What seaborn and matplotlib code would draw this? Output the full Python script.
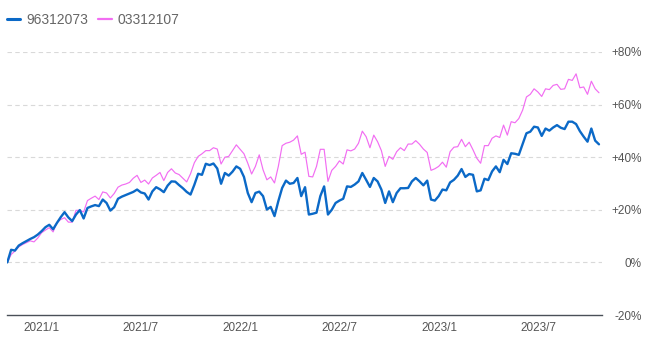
import matplotlib
matplotlib.use("Agg")
import matplotlib.pyplot as plt
import matplotlib.dates as mdates
from matplotlib.lines import Line2D
import seaborn as sns
import pandas as pd

# ---- data (weekly cumulative return, %) ----
series_names = ["96312073", "03312107"]
start_date = "2020-10-30"

fund_a = [
    0.0, 4.8, 4.5, 6.4, 7.3, 8.1, 8.9, 9.6, 10.6, 11.9,
    13.4, 14.3, 12.6, 15.0, 17.2, 19.1, 17.1, 15.7, 18.2, 19.9,
    16.7, 20.7, 21.3, 21.8, 21.4, 23.9, 22.6, 19.7, 21.0, 24.2,
    25.0, 25.6, 26.2, 26.8, 27.7, 26.6, 26.2, 23.9, 27.0, 28.6,
    27.8, 26.7, 29.2, 30.8, 30.7, 29.4, 28.2, 26.8, 25.8, 29.5,
    33.7, 33.3, 37.5, 37.0, 37.6, 35.7, 29.9, 34.0, 33.0, 34.5,
    36.5, 35.6, 32.5, 26.4, 22.9, 26.4, 26.9, 25.2, 20.1, 21.1,
    17.6, 23.3, 28.3, 31.1, 29.9, 30.2, 32.1, 25.2, 28.6, 18.2,
    18.5, 18.9, 25.2, 28.9, 18.2, 20.0, 22.6, 23.5, 24.2, 28.9,
    28.7, 29.6, 30.8, 34.0, 31.4, 28.7, 32.1, 30.8, 27.7, 22.6,
    27.0, 22.9, 26.4, 28.2, 28.2, 28.3, 30.8, 32.1, 30.8, 29.3,
    31.1, 23.9, 23.5, 25.2, 27.7, 27.4, 30.4, 31.4, 33.0, 35.5,
    32.5, 33.6, 33.3, 27.0, 27.4, 31.8, 31.3, 34.6, 36.5, 34.3,
    39.0, 37.4, 41.5, 41.3, 40.9, 45.0, 49.1, 49.7, 51.6, 51.3,
    48.1, 50.9, 50.1, 51.3, 52.2, 51.2, 50.7, 53.5, 53.5, 52.6,
    49.9, 47.8, 45.9, 50.9, 46.3, 44.9,
]

fund_b = [
    0.0, 3.0, 4.3, 5.9, 6.8, 7.5, 8.2, 7.8, 9.3, 11.3,
    12.3, 13.2, 11.6, 15.2, 16.3, 17.0, 15.3, 15.3, 19.8, 19.8,
    19.2, 23.5, 24.4, 25.2, 23.9, 26.8, 26.4, 24.5, 26.2, 28.6,
    29.4, 29.8, 30.4, 32.0, 33.1, 30.4, 31.3, 29.8, 32.1, 33.1,
    34.2, 31.1, 34.2, 35.6, 34.0, 33.4, 32.0, 30.6, 33.7, 37.9,
    40.3, 41.3, 42.5, 42.5, 43.6, 43.1, 37.4, 40.0, 40.3, 42.5,
    44.7, 43.0, 41.3, 37.7, 33.6, 36.5, 40.9, 35.2, 31.4, 32.5,
    30.2, 36.5, 44.4, 45.3, 45.7, 46.5, 48.1, 41.1, 41.9, 32.7,
    32.5, 36.5, 43.0, 43.0, 30.8, 35.0, 36.5, 38.6, 37.4, 42.8,
    42.4, 43.1, 45.3, 49.9, 47.8, 43.6, 48.4, 45.9, 42.5, 36.5,
    40.3, 39.2, 42.1, 43.6, 42.5, 45.0, 45.0, 46.3, 44.9, 43.1,
    41.8, 35.0, 35.6, 36.5, 38.1, 36.2, 42.1, 43.8, 44.0, 46.8,
    44.0, 45.7, 42.8, 39.6, 37.7, 44.4, 44.4, 47.2, 48.1, 47.5,
    52.2, 48.4, 53.5, 53.1, 54.7, 57.9, 62.9, 63.9, 66.0, 64.8,
    63.1, 66.0, 65.7, 67.3, 67.7, 65.8, 66.0, 69.6, 69.2, 71.7,
    66.4, 66.7, 63.9, 68.9, 66.0, 64.5,
]

y_ticks = [-20, 0, 20, 40, 60, 80]
y_tick_labels = ["-20%", "0%", "+20%", "+40%", "+60%", "+80%"]
x_ticks = ["2021-01-01", "2021-07-01", "2022-01-01", "2022-07-01", "2023-01-01", "2023-07-01"]
x_tick_labels = ["2021/1", "2021/7", "2022/1", "2022/7", "2023/1", "2023/7"]

colors = ["#0b69c7", "#f26df2"]
widths = [1.7, 0.85]

dates = pd.date_range(start_date, periods=len(fund_a), freq="7D")
df = pd.DataFrame({"date": list(dates) * 2,
                   "value": fund_a + fund_b,
                   "series": [series_names[0]] * len(fund_a) + [series_names[1]] * len(fund_b)})

sns.set_theme(style="white")
plt.rcParams["font.family"] = ["Liberation Sans", "DejaVu Sans"]

fig = plt.figure(figsize=(6.61, 3.42), dpi=100)
ax = fig.add_axes([7.3 / 661, 1 - 315 / 342, (601.7 - 7.3) / 661, (315 - 52) / 342])

for name, c, w in zip(series_names, colors, widths):
    sns.lineplot(data=df[df["series"] == name], x="date", y="value", ax=ax,
                 color=c, linewidth=w, legend=False, zorder=3 if name == series_names[0] else 2)

ax.set_ylim(-20, 80)
ax.set_xlim(dates[0], dates[-1] + pd.Timedelta(days=5))

ax.set_yticks(y_ticks)
ax.set_yticklabels(y_tick_labels)
ax.yaxis.tick_right()
ax.tick_params(axis="y", length=0, pad=29, labelsize=8.5, labelcolor="#555555")
for lbl in ax.get_yticklabels():
    lbl.set_horizontalalignment("right")

ax.set_xticks(pd.to_datetime(x_ticks))
ax.set_xticklabels(x_tick_labels)
ax.tick_params(axis="x", length=0, pad=5, labelsize=8.5, labelcolor="#555555")

ax.set_xlabel("")
ax.set_ylabel("")
for side in ["top", "left", "right"]:
    ax.spines[side].set_visible(False)
ax.spines["bottom"].set_color("#4a5058")
ax.spines["bottom"].set_linewidth(1.0)

for yv in y_ticks[1:]:
    ax.axhline(yv, color="#d9d9d9", linewidth=0.8, linestyle=(0, (4, 3)), zorder=1)
ax.grid(False)

handles = [Line2D([0], [0], color=c, linewidth=2.2 if i == 0 else 1.6) for i, c in enumerate(colors)]
leg = fig.legend(handles, series_names, loc="center left",
                 bbox_to_anchor=(7.3 / 661, 1 - 20 / 342), ncol=2, frameon=False,
                 fontsize=10, handlelength=0.95, handletextpad=0.4, columnspacing=0.75,
                 borderpad=0, borderaxespad=0)
for t in leg.get_texts():
    t.set_color("#666666")

fig.savefig("out.png", dpi=100)
